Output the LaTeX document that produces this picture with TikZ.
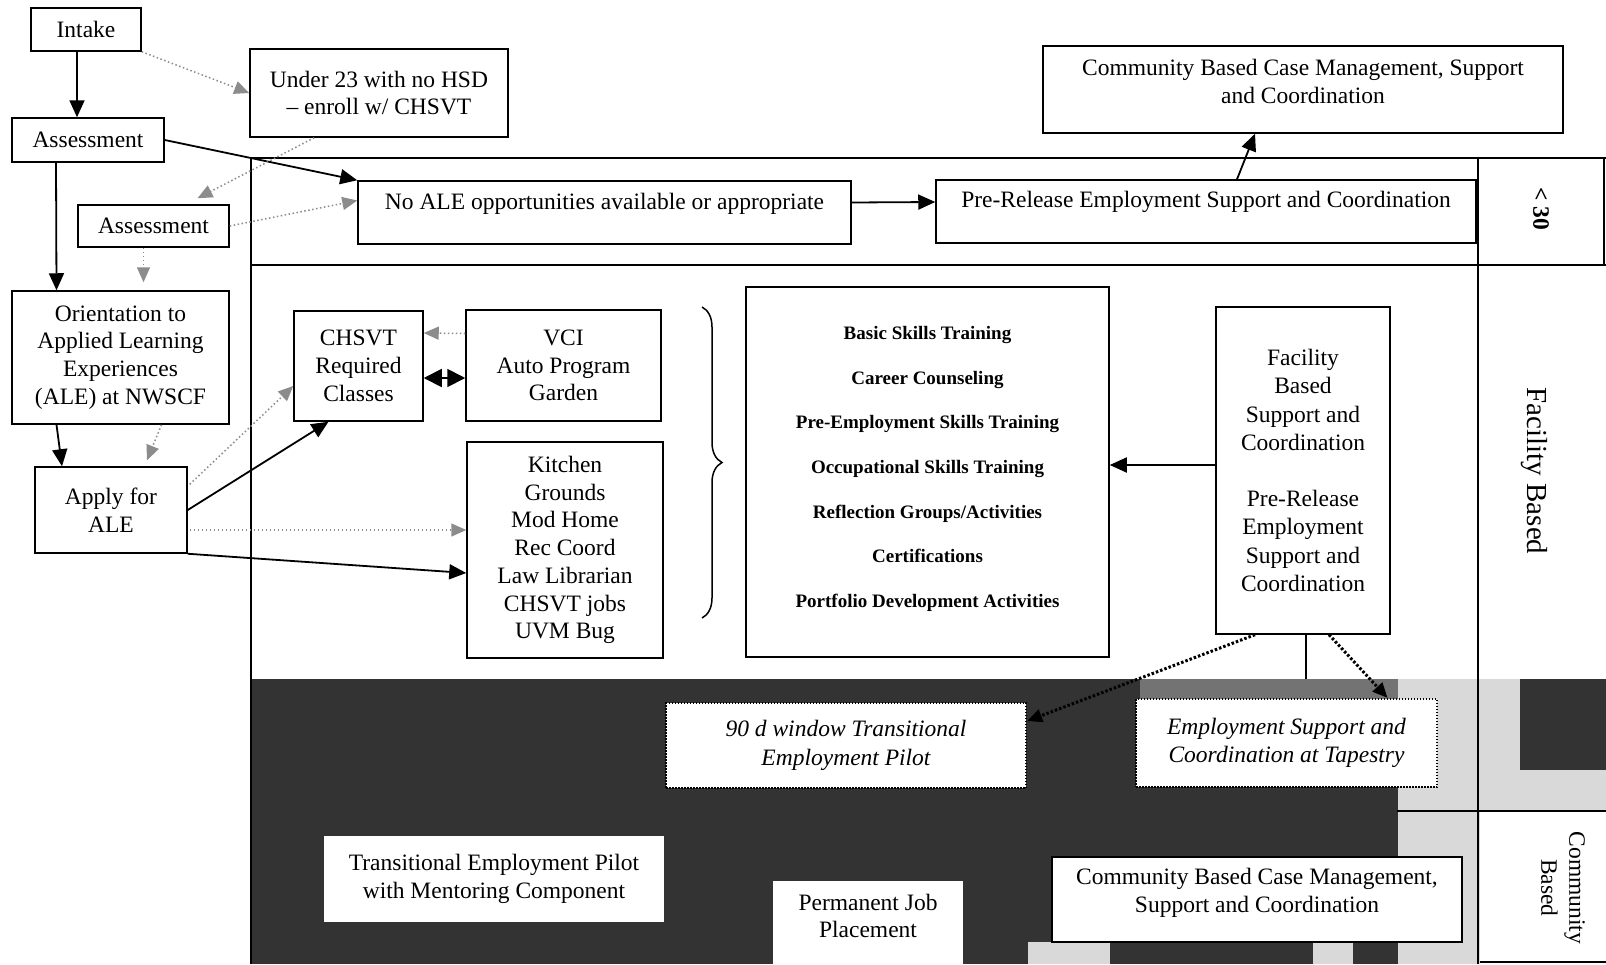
\documentclass[tikz,border=0pt]{standalone}
\usepackage{fontspec}
\setmainfont{Liberation Serif}
\usetikzlibrary{arrows.meta,calc,decorations.pathreplacing}
\newcommand{\liftup}[2]{\raisebox{#1}[\height][\depth]{\begin{tabular}{@{}c@{}}#2\end{tabular}}}
\begin{document}
\begin{tikzpicture}[x=1pt,y=-1pt,
  box/.style={draw, line width=1.5pt, fill=white, inner sep=0pt, align=center, font=\fontsize{23.5}{27.7}\selectfont},
  plainbox/.style={fill=white, inner sep=0pt, align=center, font=\fontsize{23.5}{27.7}\selectfont},
  dotbox/.style={plainbox, draw, line width=2.2pt, dash pattern=on 1.5pt off 1.5pt, font=\itshape\fontsize{23.5}{28.5}\selectfont},
  arr/.style={line width=1.8pt, -{Triangle[length=17pt,width=15pt]}},
  garr/.style={draw=black!45, line width=1.5pt, dash pattern=on 1.5pt off 2.5pt, -{Triangle[length=15pt,width=13pt,fill=black!45]}},
  bdot/.style={line width=3pt, dash pattern=on 2.5pt off 2pt, -{Triangle[length=15pt,width=13pt]}},
  frameline/.style={line width=1.6pt},
  vlabel/.style={rotate=-90, align=center, inner sep=0pt}
]
\useasboundingbox (0,0) rectangle (1606,964);
\fill[white] (0,0) rectangle (1606,964);

% dark lower band
\fill[black!80] (251,679) rectangle (1606,964);
\fill[black!55] (1140,679) rectangle (1398,699);
\fill[black!15] (1398,679) rectangle (1480,964);
\fill[black!15] (1480,679) rectangle (1520,811);
\fill[black!15] (1520,770) rectangle (1606,811);
\fill[white] (1480,811) rectangle (1606,964);
\fill[black!15] (1028,942) rectangle (1110,964);
\fill[black!15] (1313,942) rectangle (1353,964);

% frame lines
\draw[frameline] (251,158) -- (1606,158);
\draw[frameline] (251,158) -- (251,964);
\draw[frameline] (251,265) -- (1606,265);
\draw[frameline] (1478,158) -- (1478,964);
\draw[frameline] (1604,158) -- (1604,265);
\draw[frameline] (1397,811) -- (1606,811);
\draw[frameline] (1480,962) -- (1606,962);

% left column
\node[box, minimum width=110pt, minimum height=43pt] (intake) at (86,29.5) {Intake};
\node[box, minimum width=258pt, minimum height=88pt] (under) at (379,93) {Under 23 with no HSD\\– enroll w/ CHSVT};
\node[box, minimum width=152pt, minimum height=44pt] (ass1) at (88,140) {Assessment};
\node[box, minimum width=151pt, minimum height=42pt] (ass2) at (153.5,226) {Assessment};
\node[box, minimum width=217pt, minimum height=133pt] (orient) at (120.5,357.5) {Orientation to\\Applied Learning\\Experiences\\(ALE) at NWSCF};
\node[box, minimum width=152pt, minimum height=86pt] (apply) at (111,510) {Apply for\\ALE};

% top row
\node[box, minimum width=493pt, minimum height=63pt] (noale) at (604.5,212.5) {\liftup{8.5pt}{No ALE opportunities available or appropriate}};
\node[box, minimum width=540pt, minimum height=63pt] (pre) at (1206,211.5) {\liftup{9.5pt}{Pre-Release Employment Support and Coordination}};
\node[box, minimum width=520pt, minimum height=87pt] (commtop) at (1303,89.5) {\liftup{5.5pt}{Community Based Case Management, Support\\and Coordination}};

% facility row
\node[box, minimum width=129pt, minimum height=110pt] (chsvt) at (358.5,366) {CHSVT\\Required\\Classes};
\node[box, minimum width=195pt, minimum height=111pt] (vci) at (563.5,365.5) {VCI\\Auto Program\\Garden};
\node[box, minimum width=196pt, minimum height=216pt] (kitchen) at (565,550) {Kitchen\\Grounds\\Mod Home\\Rec Coord\\Law Librarian\\CHSVT jobs\\UVM Bug};
\node[box, minimum width=363pt, minimum height=370pt, font=\bfseries\fontsize{19}{44.6}\selectfont] (skills) at (927.5,472)
  {\liftup{7.5pt}{Basic Skills Training\\Career Counseling\\Pre-Employment Skills Training\\Occupational Skills Training\\Reflection Groups/Activities\\Certifications\\Portfolio Development Activities}};
\node[box, minimum width=174pt, minimum height=327pt, font=\fontsize{23.5}{28.2}\selectfont] (facility) at (1303,470.5)
  {Facility\\Based\\Support and\\Coordination\\[28.2pt]Pre-Release\\Employment\\Support and\\Coordination};

\draw[line width=1.5pt, decorate, decoration={brace, amplitude=20pt}] (702,307) -- (702,618);

% community row
\node[dotbox, minimum width=360pt, minimum height=85pt] (ninety) at (846,745.5) {90 d window Transitional\\Employment Pilot};
\node[dotbox, minimum width=301pt, minimum height=88pt] (empsup) at (1286.5,743) {Employment Support and\\Coordination at Tapestry};
\node[plainbox, minimum width=340pt, minimum height=86pt] (trans) at (494,879) {Transitional Employment Pilot\\with Mentoring Component};
\fill[white] (773,881) rectangle (963,964);
\node[plainbox, fill=none] (perm) at (868,916) {Permanent Job\\Placement};
\node[box, minimum width=410pt, minimum height=85pt] (commbot) at (1257,899.5) {\liftup{6.5pt}{Community Based Case Management,\\Support and Coordination}};

% side labels
\node[vlabel, font=\bfseries\fontsize{23.5}{28}\selectfont] (lt30) at (1541,209) {< 30};
\node[vlabel, font=\fontsize{29}{34}\selectfont] (fb) at (1534,471) {Facility Based};
\node[vlabel, font=\fontsize{23.5}{28}\selectfont] (cb) at (1563,888) {Community\\Based};

% solid connectors
\draw[arr] ($(intake.south)+(-9,0)$) -- ($(ass1.north)+(-11,0)$);
\draw[arr] ($(ass1.south)+(-32,0)$) -- ($(orient.north)+(-64,0)$);
\draw[arr] (ass1.east) -- (noale.north west);
\draw[arr] ($(orient.south)+(-64,0)$) -- ($(apply.north)+(-49,0)$);
\draw[arr] (apply.east) -- ($(chsvt.south)+(-30,0)$);
\draw[arr] (apply.south east) -- ($(kitchen.west)+(0,23)$);
\draw[line width=1.8pt, {Triangle[length=18pt,width=18pt]}-{Triangle[length=18pt,width=18pt]}] ($(chsvt.east)+(0,12)$) -- ($(vci.west)+(0,12.5)$);
\draw[arr] ($(noale.east)+(0,-10)$) -- ($(pre.west)+(0,-9.5)$);
\draw[arr] ($(pre.north)+(31,0)$) -- ($(commtop.south)+(-48,0)$);
\draw[arr] ($(facility.west)+(0,-5.5)$) -- ($(skills.east)+(0,-7)$);

% grey dotted connectors
\draw[garr] (intake.south east) -- (under.west);
\draw[garr] ($(under.south west)+(65,0)$) -- ($(ass2.north)+(44,-6)$);
\draw[garr] (ass2.east) -- ($(noale.west)+(0,-12)$);
\draw[garr] ($(ass2.south)+(-10,0)$) -- ($(orient.north)+(23,-8)$);
\draw[garr] ($(orient.south)+(41,0)$) -- ($(apply.north)+(36,-6)$);
\draw[garr] ($(apply.north east)+(2,18)$) -- ($(chsvt.west)+(0,20)$);
\draw[garr] ($(vci.west)+(0,-32)$) -- ($(chsvt.east)+(0,-33)$);
\draw[garr] ($(apply.east)+(2,20)$) -- ($(kitchen.west)+(0,-20)$);

% facility to community
\coordinate (fdrop) at (1306,679);
\draw[line width=1.2pt] ($(facility.south)+(3,0)$) -- (fdrop);
\draw[bdot] ($(facility.south)+(26,0)$) -- ($(empsup.north)+(101,0)$);
\draw[bdot] ($(facility.south)+(-48,0)$) -- ($(ninety.east)+(0,-24.5)$);
\end{tikzpicture}
\end{document}
